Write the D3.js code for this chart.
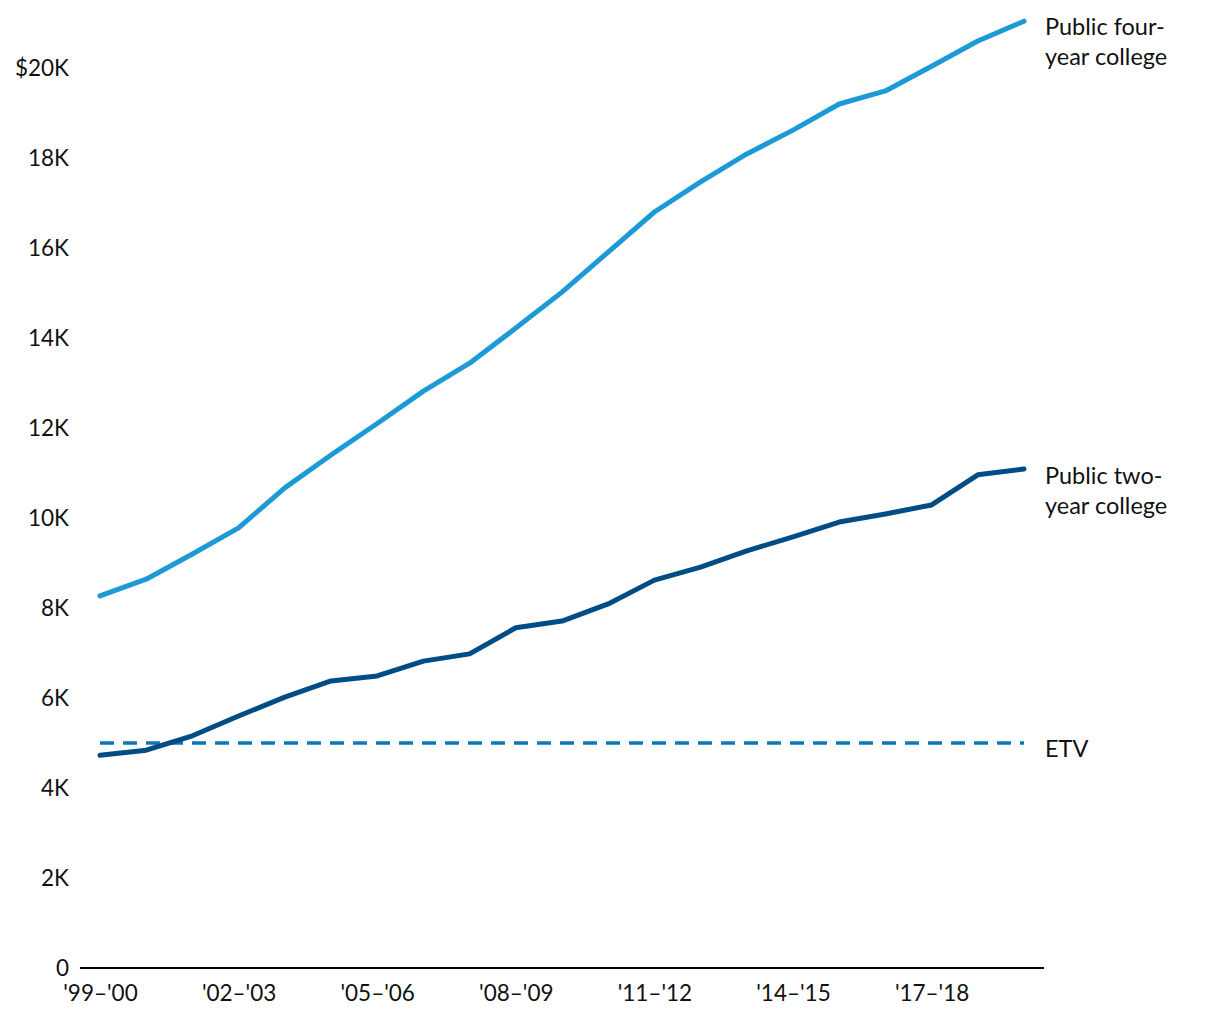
<!DOCTYPE html>
<html><head><meta charset="utf-8">
<script src="https://cdn.jsdelivr.net/npm/d3@7"></script>
<style>
html,body{margin:0;padding:0;background:#fff;}
text{font-family:Lato,"Open Sans",sans-serif;fill:#111;}
</style></head>
<body>
<svg id="chart" width="1220" height="1020"></svg>
<script>
const years = ["'99–'00","'00–'01","'01–'02","'02–'03","'03–'04","'04–'05","'05–'06","'06–'07","'07–'08","'08–'09","'09–'10","'10–'11","'11–'12","'12–'13","'13–'14","'14–'15","'15–'16","'16–'17","'17–'18","'18–'19","'19–'20"];
const fourYear = [8270,8640,9200,9780,10670,11400,12100,12820,13440,14220,15020,15910,16800,17470,18090,18620,19200,19490,20040,20600,21040];
const twoYear = [4730,4840,5160,5600,6020,6380,6490,6820,6980,7560,7710,8090,8620,8910,9270,9580,9910,10090,10290,10960,11090];
const etvValue = 5000;
const yTicks = [0,2000,4000,6000,8000,10000,12000,14000,16000,18000,20000];
const xTickLabels = ["'99–'00","'02–'03","'05–'06","'08–'09","'11–'12","'14–'15","'17–'18"];

const svg = d3.select("#chart");
const x = d3.scalePoint().domain(years).range([100,1024]);
const y = d3.scaleLinear().domain([0,20000]).range([968,68]);

// y tick labels
svg.append("g").selectAll("text").data(yTicks).join("text")
  .attr("x",69).attr("y",d=>y(d)).attr("dy","0.35em")
  .attr("text-anchor","end").attr("font-size",22.5)
  .text(d=> d===0 ? "0" : (d===20000 ? "$20K" : (d/1000)+"K"));

// x axis baseline
svg.append("line").attr("x1",80).attr("x2",1044).attr("y1",968).attr("y2",968)
  .attr("stroke","#000").attr("stroke-width",2);

const xAxis = d3.axisBottom(x).tickValues(xTickLabels).tickSize(0).tickPadding(17);
const gx = svg.append("g").attr("transform","translate(0,968)").call(xAxis);
gx.select(".domain").remove();
gx.selectAll("text").attr("font-size",22.5).attr("fill","#111").attr("font-family","Lato, sans-serif");

const line = d3.line().x((d,i)=>x(years[i])).y(d=>y(d));

// ETV dashed
svg.append("line").attr("x1",x(years[0])).attr("x2",x(years[years.length-1]))
  .attr("y1",y(etvValue)).attr("y2",y(etvValue))
  .attr("stroke","#0a78b6").attr("stroke-width",3.5).attr("stroke-dasharray","14 9");

svg.append("path").datum(twoYear).attr("d",line).attr("fill","none")
  .attr("stroke","#004c85").attr("stroke-width",5).attr("stroke-linecap","round").attr("stroke-linejoin","round");
svg.append("path").datum(fourYear).attr("d",line).attr("fill","none")
  .attr("stroke","#1b9ad6").attr("stroke-width",5).attr("stroke-linecap","round").attr("stroke-linejoin","round");

// labels
function label(lines, yStart){
  const t = svg.append("text").attr("x",1045).attr("y",yStart).attr("font-size",23.5);
  lines.forEach((l,i)=>t.append("tspan").attr("x",1045).attr("dy",i===0?0:30).text(l));
}
label(["Public four-","year college"],35);
label(["Public two-","year college"],484);
label(["ETV"],757);
</script>
</body></html>
